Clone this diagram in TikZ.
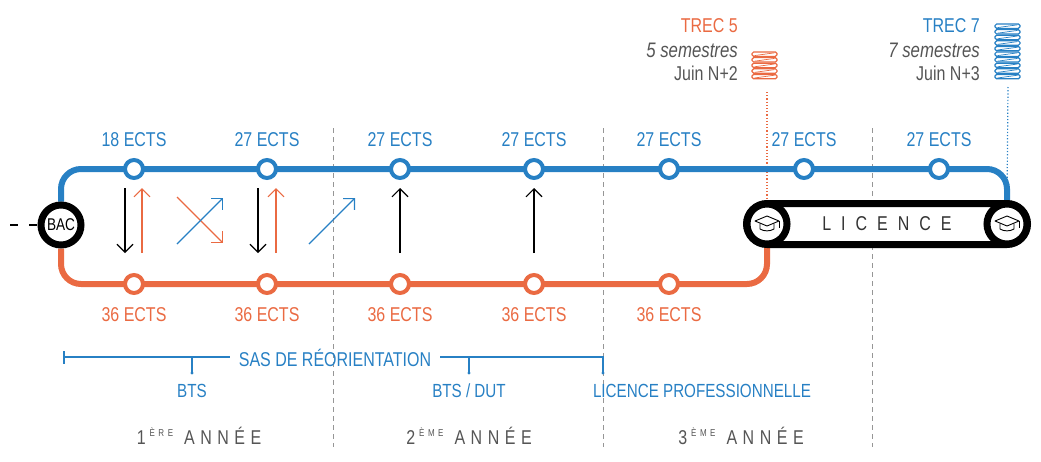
\documentclass[tikz,border=0pt]{standalone}
\usepackage{fontspec}
\setmainfont{Liberation Sans}[FakeStretch=0.8]
\usetikzlibrary{arrows.meta,backgrounds}
\definecolor{cblue}{RGB}{39,128,196}
\definecolor{corange}{RGB}{234,106,66}
\definecolor{ctext}{RGB}{85,85,85}
\definecolor{cdash}{RGB}{150,150,150}
\definecolor{cdark}{RGB}{51,51,51}
\newcommand\yearlbl[2]{#1\kern4pt\raisebox{7.2pt}{\fontsize{10}{10}\selectfont #2}\kern11pt A\kern5.5pt N\kern5.5pt N\kern5.5pt É\kern5.5pt E}
\tikzset{
  gradcap/.pic={
    \draw[line width=0.9pt, line join=round] (-12,-3) -- (0,-8) -- (12,-3) -- (0,2) -- cycle;
    \draw[line width=0.9pt] (-7,-0.5) -- (-7,5) .. controls (-3,7.5) and (3,7.5) .. (7,5) -- (7,-0.5);
    \draw[line width=0.9pt] (12,-3) -- (12,4);
  }
}
\begin{document}
\begin{tikzpicture}[x=1pt,y=-1pt,
  lbl/.style={font=\fontsize{20}{24}\selectfont, inner sep=0pt, anchor=base},
  itlbl/.style={lbl, font=\fontsize{21}{24}\selectfont\itshape},
  bst/.style={circle, draw=cblue, line width=4pt, fill=white, minimum size=18pt, inner sep=0pt},
  ost/.style={bst, draw=corange},
  bigring/.style={circle, draw=black, line width=7pt, fill=white, minimum size=40pt, inner sep=0pt},
  track/.style={line width=6pt, rounded corners=20pt},
  sepline/.style={cdash, line width=0.9pt, dash pattern=on 5pt off 4pt},
  arr/.style={line width=1.1pt, -{Straight Barb[length=8pt,width=16pt]}},
  sasline/.style={cblue, line width=1.3pt},
  coilline/.style={line width=1.2pt, rounded corners=1.6pt}
]
\useasboundingbox (0,0) rectangle (1041,461);

% ---- nodes ----
\node[bigring, font=\fontsize{17}{20}\selectfont] (bac) at (61,225) {BAC};

\node[bst] (b1) at (134,169) {};
\node[bst] (b2) at (267,169) {};
\node[bst] (b3) at (400,169) {};
\node[bst] (b4) at (534,169) {};
\node[bst] (b5) at (669,169) {};
\node[bst] (b6) at (804,169) {};
\node[bst] (b7) at (939,169) {};

\node[ost] (o1) at (134,284) {};
\node[ost] (o2) at (267,284) {};
\node[ost] (o3) at (400,284) {};
\node[ost] (o4) at (534,284) {};
\node[ost] (o5) at (669,284) {};

\node[draw=black, line width=7pt, rounded corners=20.5pt, fill=white,
      minimum width=281pt, minimum height=41pt, inner sep=0pt,
      font=\fontsize{20}{24}\selectfont, text=cdark] (lic) at (887,224)
      {L\kern10pt I\kern10pt C\kern10pt E\kern10pt N\kern10pt C\kern10pt E};
\node[bigring] (lic1) at (767,224) {};
\node[bigring] (lic2) at (1007,224) {};
\pic at (lic1) {gradcap};
\pic at (lic2) {gradcap};

% ECTS labels
\foreach \n/\t in {b1/18 ECTS,b2/27 ECTS,b3/27 ECTS,b4/27 ECTS,b5/27 ECTS,b6/27 ECTS,b7/27 ECTS}{
  \node[lbl, text=cblue] at ([yshift=23pt]\n.center) {\t};
}
\foreach \n in {o1,o2,o3,o4,o5}{
  \node[lbl, text=corange] at ([yshift=-37pt]\n.center) {36 ECTS};
}

% TREC texts
\node[lbl, anchor=base east, text=corange] (trec5) at (738,32) {TREC 5};
\node[itlbl, anchor=base east, text=ctext] (sem5) at (738,57) {5 semestres};
\node[lbl, anchor=base east, text=ctext] (juin5) at (738,80) {Juin N+2};
\node[lbl, anchor=base east, text=cblue] (trec7) at (980,32) {TREC 7};
\node[itlbl, anchor=base east, text=ctext] (sem7) at (980,57) {7 semestres};
\node[lbl, anchor=base east, text=ctext] (juin7) at (980,80) {Juin N+3};

% coils
\foreach \i in {0,...,4}{
  \pgfmathsetmacro\ya{52+\i*5.6}
  \pgfmathsetmacro\yb{\ya+4.4}
  \draw[corange, coilline] (752,\ya) rectangle (777,\yb);
  \draw[corange, line width=0.7pt] (754.5,\yb-0.8) -- (774.5,\ya+0.8);
}
\foreach \i in {0,...,9}{
  \pgfmathsetmacro\ya{24+\i*5.6}
  \pgfmathsetmacro\yb{\ya+4.4}
  \draw[cblue, coilline] (995,\ya) rectangle (1020,\yb);
  \draw[cblue, line width=0.7pt] (997.5,\yb-0.8) -- (1017.5,\ya+0.8);
}
\coordinate (sp5) at (767,92);
\coordinate (sp7) at (1008,87);

% SAS de reorientation
\node[lbl, text=cblue, inner xsep=9pt] (sas) at (335,366) {SAS DE RÉORIENTATION};
\coordinate (sasL) at (64,357);
\coordinate (sasLt) at (64,351);
\coordinate (sasLb) at (64,364);
\coordinate (sasR) at (603,357);
\coordinate (t1a) at (192,357);
\coordinate (t1b) at (192,373);
\coordinate (t2a) at (469,357);
\coordinate (t2b) at (469,373);
\coordinate (t3b) at (603,373);
\draw[sasline] (sasLt) -- (sasLb);
\draw[sasline] (sasL) -- (sas.west |- sasL);
\draw[sasline] (sas.east |- sasR) -- (sasR) -- (t3b);
\draw[sasline] (t1a) -- (t1b);
\draw[sasline] (t2a) -- (t2b);
\fill[cblue] (t1b) circle (1.7pt) (t2b) circle (1.7pt) (t3b) circle (1.7pt);

\node[lbl, text=cblue, font=\fontsize{19}{22}\selectfont] (bts) at (192,397) {BTS};
\node[lbl, text=cblue, font=\fontsize{19}{22}\selectfont] (btsdut) at (469,397) {BTS / DUT};
\node[lbl, text=cblue, font=\fontsize{19}{22}\selectfont] (lpro) at (702,397) {LICENCE PROFESSIONNELLE};

% years
\node[lbl, text=ctext] (y1) at (199,444) {\yearlbl{1}{È\kern3.5pt R\kern3.5pt E}};
\node[lbl, text=ctext] (y2) at (469,444) {\yearlbl{2}{È\kern3.5pt M\kern3.5pt E}};
\node[lbl, text=ctext] (y3) at (741,444) {\yearlbl{3}{È\kern3.5pt M\kern3.5pt E}};

% arrows between tracks
\coordinate (a1s) at (125,188); \coordinate (a1e) at (125,253);
\coordinate (a2s) at (142,253); \coordinate (a2e) at (142,188);
\coordinate (a3s) at (177,197); \coordinate (a3e) at (223,243);
\coordinate (a4s) at (177,244); \coordinate (a4e) at (223,198);
\coordinate (a5s) at (258,188); \coordinate (a5e) at (258,253);
\coordinate (a6s) at (276,253); \coordinate (a6e) at (276,188);
\coordinate (a7s) at (309,244); \coordinate (a7e) at (355,198);
\coordinate (a8s) at (400,253); \coordinate (a8e) at (400,188);
\coordinate (a9s) at (534,253); \coordinate (a9e) at (534,188);
\draw[arr, black] (a1s) -- (a1e);
\draw[arr, corange] (a2s) -- (a2e);
\draw[arr, corange] (a3s) -- (a3e);
\draw[arr, cblue] (a4s) -- (a4e);
\draw[arr, black] (a5s) -- (a5e);
\draw[arr, corange] (a6s) -- (a6e);
\draw[arr, cblue] (a7s) -- (a7e);
\draw[arr, black] (a8s) -- (a8e);
\draw[arr, black] (a9s) -- (a9e);

% ---- background: separators and tracks ----
\begin{scope}[on background layer]
  \coordinate (s1t) at (333,128); \coordinate (s1b) at (333,447);
  \coordinate (s2t) at (603,128); \coordinate (s2b) at (603,447);
  \coordinate (s3t) at (872,128); \coordinate (s3b) at (872,447);
  \draw[sepline] (s1t) -- (s1b);
  \draw[sepline] (s2t) -- (s2b);
  \draw[sepline] (s3t) -- (s3b);
  \draw[corange, line width=1.2pt, dotted] (sp5) -- (lic1.north);
  \draw[cblue, line width=1.2pt, dotted] (sp7) -- (lic2.north);
  \coordinate (lead) at (10,225);
  \draw[line width=2.5pt, dash pattern=on 8pt off 11pt] (lead) -- (bac.west);
  \draw[cblue, track] (bac.north) |- (b7.center) -| (lic2.north);
  \draw[corange, track] (bac.south) |- (o5.center) -| (lic1.south);
\end{scope}
\end{tikzpicture}
\end{document}
